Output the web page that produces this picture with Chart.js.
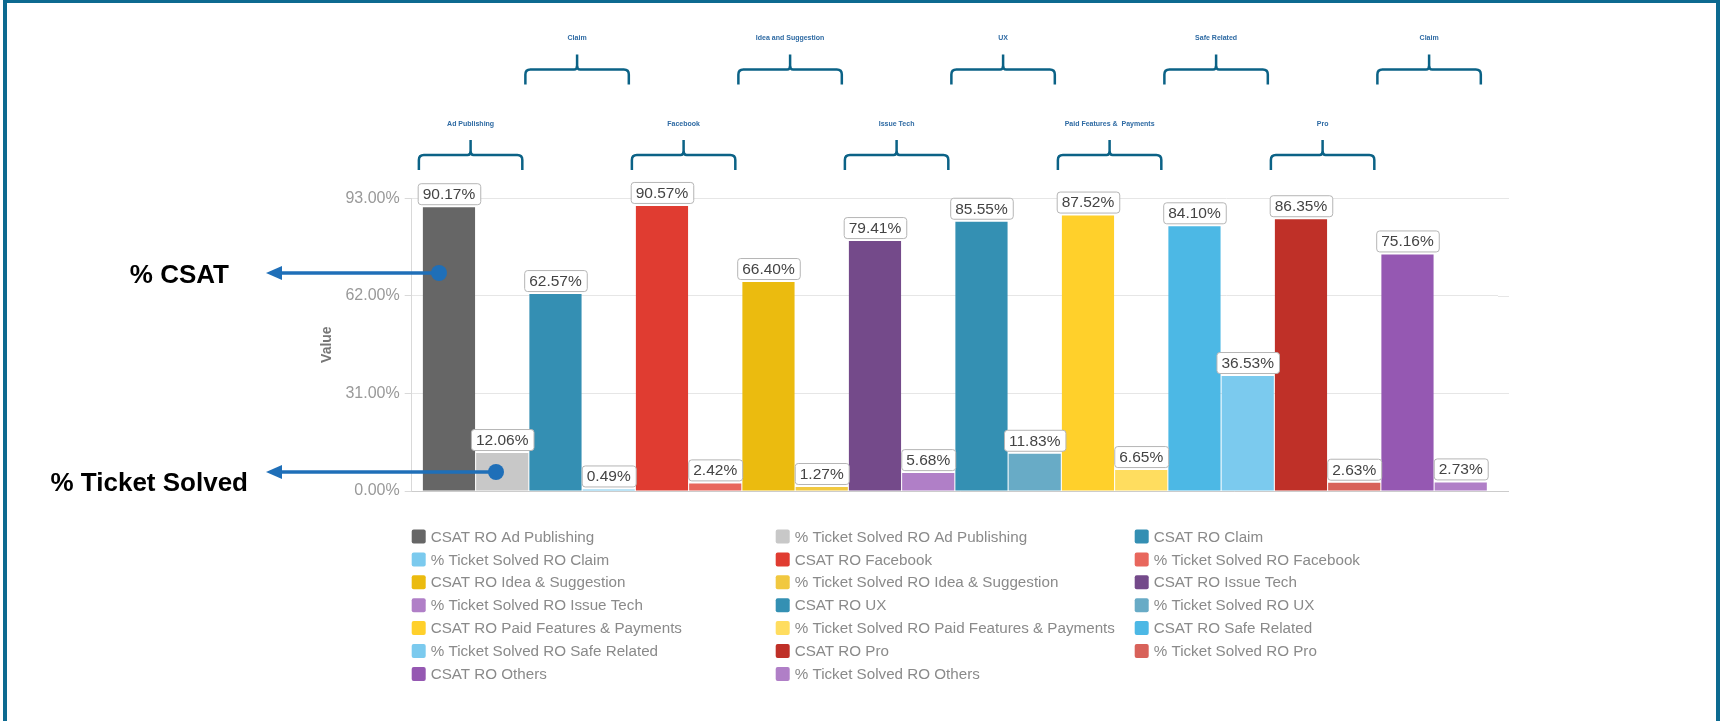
<!DOCTYPE html>
<html>
<head>
<meta charset="utf-8">
<script src="https://cdn.jsdelivr.net/npm/chart.js@4.4.1/dist/chart.umd.min.js"></script>
<style>
  html, body { margin: 0; padding: 0; background: #fff; }
  #wrap { position: relative; width: 1723px; height: 721px; overflow: hidden; }
  #frame {
    position: absolute; left: 3px; top: -1px; width: 1709px; height: 740px;
    border: 4px solid #0d6a90; pointer-events: none;
  }
  canvas { position: absolute; left: 0; top: 0; }
</style>
</head>
<body>
<div id="wrap">
  <canvas id="chart" width="1723" height="721"></canvas>
  <div id="frame"></div>
</div>
<script>
// --- Data ---
const categories = ['Ad Publishing', 'Claim', 'Facebook', 'Idea & Suggestion', 'Issue Tech',
    'UX', 'Paid Features & Payments', 'Safe Related', 'Pro', 'Others'];
const csatValues = [90.17, 62.57, 90.57, 66.40, 79.41, 85.55, 87.52, 84.10, 86.35, 75.16];
const solvedValues = [12.06, 0.49, 2.42, 1.27, 5.68, 11.83, 6.65, 36.53, 2.63, 2.73];
const csatColors = ['#666666', '#348fb3', '#e03c31', '#ebbb0f', '#744a8a',
    '#3490b3', '#ffd02b', '#4cb8e5', '#bf3028', '#9558b2'];
const solvedColors = ['#c8c8c8', '#7bcaee', '#e8675d', '#f1c840', '#b07fc7',
    '#68abc6', '#ffdd5f', '#7bcaee', '#d8625a', '#b07fc7'];
const yTicks = [0, 31, 62, 93];
const bracketLabels = ['Ad Publishing', 'Claim', 'Facebook', 'Idea and Suggestion', 'Issue Tech',
    'UX', 'Paid Features &  Payments', 'Safe Related', 'Pro', 'Claim'];

// --- Build datasets (one bar each, CSAT then % Ticket Solved per category) ---
const datasets = [];
categories.forEach((cat, i) => {
    datasets.push({ label: 'CSAT RO ' + cat, data: [csatValues[i]], backgroundColor: csatColors[i] });
    datasets.push({ label: '% Ticket Solved RO ' + cat, data: [solvedValues[i]], backgroundColor: solvedColors[i] });
});

const FONT = '"Liberation Sans", Arial, sans-serif';

function roundRect(ctx, x, y, w, h, r) {
    ctx.beginPath();
    ctx.moveTo(x + r, y);
    ctx.lineTo(x + w - r, y);
    ctx.quadraticCurveTo(x + w, y, x + w, y + r);
    ctx.lineTo(x + w, y + h - r);
    ctx.quadraticCurveTo(x + w, y + h, x + w - r, y + h);
    ctx.lineTo(x + r, y + h);
    ctx.quadraticCurveTo(x, y + h, x, y + h - r);
    ctx.lineTo(x, y + r);
    ctx.quadraticCurveTo(x, y, x + r, y);
    ctx.closePath();
}

// grid lines run a little past the last bar in the original
const gridExtend = {
    id: 'gridExtend',
    beforeDatasetsDraw(chart) {
        const { ctx, chartArea, scales: { y } } = chart;
        ctx.save();
        ctx.strokeStyle = '#e6e6e6';
        ctx.lineWidth = 1;
        y.ticks.forEach(t => {
            if (t.value === 0) return;
            const py = Math.round(y.getPixelForValue(t.value)) + 0.5;
            ctx.beginPath();
            ctx.moveTo(chartArea.right, py);
            ctx.lineTo(chartArea.right + 11, py);
            ctx.stroke();
        });
        ctx.strokeStyle = '#cccccc';
        const by = Math.round(y.getPixelForValue(0)) + 0.5;
        ctx.beginPath();
        ctx.moveTo(chartArea.left, by);
        ctx.lineTo(chartArea.right + 11, by);
        ctx.stroke();
        ctx.restore();
    }
};

// boxed value labels above each bar
const valueLabels = {
    id: 'valueLabels',
    afterDatasetsDraw(chart) {
        const { ctx } = chart;
        ctx.save();
        ctx.font = '15.5px ' + FONT;
        ctx.textAlign = 'center';
        ctx.textBaseline = 'middle';
        chart.data.datasets.forEach((ds, i) => {
            const bar = chart.getDatasetMeta(i).data[0];
            const text = ds.data[0].toFixed(2) + '%';
            const w = ctx.measureText(text).width + 10;
            const h = 21;
            const bx = bar.x - w / 2;
            const by = bar.y - 3 - h;
            roundRect(ctx, bx + 0.5, by + 0.5, w, h, 3);
            ctx.fillStyle = '#ffffff';
            ctx.fill();
            ctx.strokeStyle = '#b5b5b5';
            ctx.lineWidth = 1;
            ctx.stroke();
            ctx.fillStyle = '#444444';
            ctx.fillText(text, bar.x, by + h / 2 + 1);
        });
        ctx.restore();
    }
};

// curly brackets with category names over each pair of bars
const brackets = {
    id: 'brackets',
    afterDraw(chart) {
        const { ctx } = chart;
        ctx.save();
        bracketLabels.forEach((name, i) => {
            const a = chart.getDatasetMeta(2 * i).data[0];
            const b = chart.getDatasetMeta(2 * i + 1).data[0];
            const left = a.x - a.width / 2 - 4;
            const right = b.x + b.width / 2 - 6;
            const c = (left + right) / 2;
            const base = i % 2 === 0 ? 124 : 38.5;
            const tip = base + 16;
            const hy = base + 31;
            const bot = base + 46;
            const r = 5;
            ctx.strokeStyle = '#0b6286';
            ctx.lineWidth = 2.5;
            ctx.lineJoin = 'round';
            ctx.beginPath();
            ctx.moveTo(left, bot);
            ctx.lineTo(left, hy + r);
            ctx.quadraticCurveTo(left, hy, left + r, hy);
            ctx.lineTo(c - 3, hy);
            ctx.quadraticCurveTo(c, hy, c, hy - 4);
            ctx.lineTo(c, tip);
            ctx.moveTo(c, hy - 4);
            ctx.quadraticCurveTo(c, hy, c + 3, hy);
            ctx.lineTo(right - r, hy);
            ctx.quadraticCurveTo(right, hy, right, hy + r);
            ctx.lineTo(right, bot);
            ctx.stroke();
            ctx.fillStyle = '#2e6aa3';
            ctx.font = 'bold 7px ' + FONT;
            ctx.textAlign = 'center';
            ctx.textBaseline = 'middle';
            ctx.fillText(name, c, base);
        });
        ctx.restore();
    }
};

// three-column legend under the plot
const gridLegend = {
    id: 'gridLegend',
    afterDraw(chart) {
        const { ctx, chartArea } = chart;
        const colX = [chartArea.left, chartArea.left + 364, chartArea.left + 723];
        ctx.save();
        ctx.font = '15.2px ' + FONT;
        ctx.textBaseline = 'middle';
        chart.data.datasets.forEach((ds, i) => {
            const x = colX[i % 3];
            const y = 536.5 + Math.floor(i / 3) * 22.9;
            roundRect(ctx, x, y - 7, 14, 14, 2);
            ctx.fillStyle = ds.backgroundColor;
            ctx.fill();
            ctx.fillStyle = '#8a8a8a';
            ctx.fillText(ds.label, x + 19, y + 1);
        });
        ctx.restore();
    }
};

// "% CSAT" / "% Ticket Solved" callouts on the left
function drawCallout(ctx, text, textRight, ty, x0, y0, x1) {
    ctx.font = 'bold 26px ' + FONT;
    ctx.fillStyle = '#000';
    ctx.textAlign = 'right';
    ctx.textBaseline = 'alphabetic';
    ctx.fillText(text, textRight, ty);
    ctx.strokeStyle = '#1f6fb8';
    ctx.fillStyle = '#1f6fb8';
    ctx.lineWidth = 3.5;
    ctx.beginPath();
    ctx.moveTo(x0, y0);
    ctx.lineTo(x1 + 12, y0);
    ctx.stroke();
    ctx.beginPath();
    ctx.moveTo(x1, y0);
    ctx.lineTo(x1 + 16, y0 - 7);
    ctx.lineTo(x1 + 16, y0 + 7);
    ctx.closePath();
    ctx.fill();
    ctx.beginPath();
    ctx.arc(x0, y0, 8, 0, Math.PI * 2);
    ctx.fill();
}

const callouts = {
    id: 'callouts',
    afterDraw(chart) {
        const { ctx } = chart;
        ctx.save();
        drawCallout(ctx, '% CSAT', 229, 283, 439, 273, 266);
        drawCallout(ctx, '% Ticket Solved', 248, 491, 496, 472, 266);
        ctx.restore();
    }
};

new Chart(document.getElementById('chart'), {
    type: 'bar',
    data: { labels: [''], datasets },
    options: {
        responsive: false,
        animation: false,
        layout: { padding: { left: 314.7, right: 225, top: 198.3, bottom: 230 } },
        datasets: { bar: { categoryPercentage: 0.9804, barPercentage: 0.98 } },
        plugins: { legend: { display: false }, tooltip: { enabled: false } },
        scales: {
            x: {
                grid: { display: false },
                border: { display: false },
                ticks: { display: false },
                afterFit: s => { s.height = 0; }
            },
            y: {
                min: yTicks[0],
                max: yTicks[yTicks.length - 1],
                afterBuildTicks: s => { s.ticks = yTicks.map(v => ({ value: v })); },
                afterFit: s => { s.width = 97; },
                grid: { color: '#e6e6e6', tickLength: 7, tickColor: '#d9d9d9' },
                border: { display: true, color: '#d9d9d9' },
                ticks: {
                    padding: 5,
                    color: '#999999',
                    font: { family: FONT, size: 16 },
                    callback: v => v.toFixed(2) + '%'
                },
                title: {
                    display: true,
                    text: 'Value',
                    color: '#777777',
                    font: { family: FONT, size: 14, weight: 'bold' }
                }
            }
        }
    },
    plugins: [gridExtend, valueLabels, brackets, gridLegend, callouts]
});
</script>
</body>
</html>
